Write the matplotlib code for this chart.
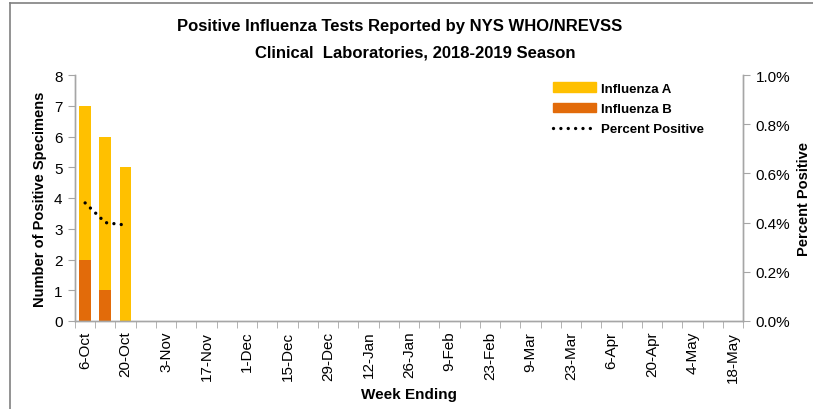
import matplotlib
matplotlib.use("Agg")
import matplotlib.pyplot as plt
import numpy as np
from matplotlib.ticker import FuncFormatter, FixedLocator
from matplotlib.lines import Line2D

plt.rcParams['font.family'] = ['Liberation Sans', 'DejaVu Sans']

weeks = ["6-Oct", "13-Oct", "20-Oct", "27-Oct", "3-Nov", "10-Nov", "17-Nov", "24-Nov",
         "1-Dec", "8-Dec", "15-Dec", "22-Dec", "29-Dec", "5-Jan", "12-Jan", "19-Jan",
         "26-Jan", "2-Feb", "9-Feb", "16-Feb", "23-Feb", "2-Mar", "9-Mar", "16-Mar",
         "23-Mar", "30-Mar", "6-Apr", "13-Apr", "20-Apr", "27-Apr", "4-May", "11-May", "18-May"]
flu_a = [5, 5, 5]
flu_b = [2, 1, 0]
pct_positive = [0.48, 0.40, 0.39]

col_a = "#FFC000"
col_b = "#E26B0A"
axis_col = "#A6A6A6"

fig = plt.figure(figsize=(8.13, 4.10), dpi=100)
ax = fig.add_axes([75/813, 88/410, 668/813, 246/410])
n = len(weeks)
x = np.arange(n)
xd = np.arange(len(flu_a))

ax.bar(xd, flu_b, width=0.58, color=col_b, label="Influenza B", zorder=2)
ax.bar(xd, flu_a, width=0.58, bottom=flu_b, color=col_a, label="Influenza A", zorder=2)
ax.set_xlim(-0.5, n - 0.5)
ax.set_ylim(0, 8)
ax.set_yticks(range(0, 9))

ax2 = ax.twinx()
ax2.plot(xd, pct_positive, color="black", linewidth=2.4, linestyle=(0, (0.01, 2.2)),
         dash_capstyle='round', label="Percent Positive", zorder=3)
ax2.set_ylim(0, 1.0)
ax2.set_yticks(np.arange(0, 1.01, 0.2))
ax2.yaxis.set_major_formatter(FuncFormatter(lambda v, p: f"{v:.1f}%"))

# x ticks: labels every other week at centers, marks at boundaries
ax.set_xticks(x[::2])
ax.set_xticklabels(weeks[::2], rotation=90)
ax.tick_params(axis='x', which='major', length=0, pad=7, labelsize=11)
ax.xaxis.set_minor_locator(FixedLocator(np.arange(-0.5, n, 1.0)))
ax.tick_params(axis='x', which='minor', length=5, color=axis_col, direction='out')
ax.tick_params(axis='y', length=5, color=axis_col, labelsize=11, pad=4)
ax2.tick_params(axis='y', length=5, color=axis_col, labelsize=11, pad=4)

for a in (ax, ax2):
    a.spines['top'].set_visible(False)
    for s in ('left', 'right', 'bottom'):
        a.spines[s].set_color(axis_col)
        a.spines[s].set_linewidth(1.0)

ax.set_ylabel("Number of Positive Specimens", fontsize=10.5, fontweight='bold', labelpad=5)
ax2.set_ylabel("Percent Positive", fontsize=10.5, fontweight='bold', labelpad=5)
ax.set_xlabel("Week Ending", fontsize=11, fontweight='bold', labelpad=4)

fig.text(400/813, 1 - 27/410, "Positive Influenza Tests Reported by NYS WHO/NREVSS",
         ha='center', va='center', fontsize=12, fontweight='bold')
fig.text(415/813, 1 - 53/410, "Clinical  Laboratories, 2018-2019 Season",
         ha='center', va='center', fontsize=12, fontweight='bold')

handles = [plt.Rectangle((0, 0), 1, 1, color=col_a), plt.Rectangle((0, 0), 1, 1, color=col_b),
           Line2D([], [], color='black', linewidth=2.4, linestyle=(0, (0.01, 2.2)), dash_capstyle='round')]
labels = ["Influenza A", "Influenza B", "Percent Positive"]
fig.legend(handles, labels, loc='upper left', bbox_to_anchor=(548/813, 1 - 78/410),
           frameon=False, prop={'weight': 'bold', 'size': 9.5}, handlelength=3.2,
           handleheight=0.7, labelspacing=0.62, handletextpad=0.4, borderaxespad=0)

# figure frame (left and top edges visible)
fig.add_artist(Line2D([10/813, 10/813], [0, 1 - 4/410], transform=fig.transFigure, color="#808080", linewidth=1.2))
fig.add_artist(Line2D([10/813, 1], [1 - 4/410, 1 - 4/410], transform=fig.transFigure, color="#808080", linewidth=1.2))

fig.savefig("out.png", dpi=100)
